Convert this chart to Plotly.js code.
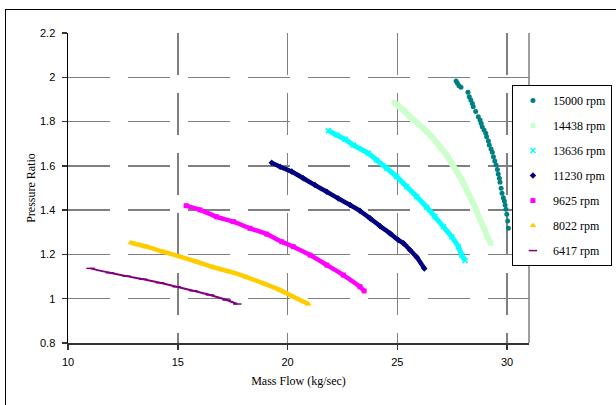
<!DOCTYPE html>
<html>
<head>
<meta charset="utf-8">
<script src="https://cdn.plot.ly/plotly-3.0.1.min.js"></script>
<style>
  html, body { margin: 0; padding: 0; background: #fff; }
  #wrap { position: relative; width: 616px; height: 405px; overflow: hidden; }
  #chart { position: absolute; left: 0; top: 0; width: 616px; height: 405px; }
  #frame { position: absolute; left: 5px; top: 9px; width: 640px; height: 420px;
           border: 1px solid #000; pointer-events: none; box-sizing: border-box; }
</style>
</head>
<body>
<div id="wrap">
  <div id="chart"></div>
  <div id="frame"></div>
</div>
<script>
// Series names (legend labels)
const seriesNames = ["15000 rpm", "14438 rpm", "13636 rpm", "11230 rpm", "9625 rpm", "8022 rpm", "6417 rpm"];

// Mass flow (kg/sec) and pressure ratio values
const flow15000 = [27.68, 27.74, 27.81, 27.90, 28.22, 28.28, 28.35, 28.42, 28.46, 28.57, 28.69, 28.77, 28.82, 28.87, 28.95, 29.03, 29.07, 29.15, 29.19, 29.27, 29.33, 29.38, 29.44, 29.50, 29.56, 29.60, 29.65, 29.68, 29.73, 29.77, 29.83, 29.88, 29.91, 29.95, 29.99, 30.03, 30.06];
const pr15000   = [1.983, 1.973, 1.962, 1.955, 1.932, 1.912, 1.897, 1.882, 1.867, 1.845, 1.822, 1.807, 1.792, 1.777, 1.762, 1.747, 1.732, 1.712, 1.694, 1.676, 1.661, 1.641, 1.622, 1.604, 1.584, 1.563, 1.544, 1.526, 1.499, 1.476, 1.456, 1.441, 1.423, 1.404, 1.381, 1.351, 1.318];

const flow14438 = [24.85, 25.28, 25.58, 25.96, 26.36, 26.64, 26.95, 27.25, 27.48, 27.71, 27.94, 28.16, 28.39, 28.59, 28.77, 28.95, 29.10, 29.27];
const pr14438   = [1.887, 1.852, 1.822, 1.789, 1.753, 1.724, 1.686, 1.649, 1.611, 1.574, 1.536, 1.491, 1.446, 1.401, 1.356, 1.318, 1.280, 1.250];

const flow13636 = [21.86, 22.24, 22.62, 23.00, 23.68, 24.06, 24.52, 24.97, 25.43, 25.89, 26.34, 26.72, 27.10, 27.48, 27.78, 27.94, 28.09];
const pr13636   = [1.759, 1.739, 1.720, 1.694, 1.657, 1.626, 1.589, 1.551, 1.506, 1.461, 1.413, 1.370, 1.325, 1.280, 1.235, 1.197, 1.172];

const flow11230 = [19.28, 19.66, 20.19, 20.72, 21.25, 21.79, 22.31, 22.85, 23.30, 23.76, 24.21, 24.67, 25.05, 25.28, 25.58, 25.89, 26.23];
const pr11230   = [1.614, 1.596, 1.574, 1.544, 1.513, 1.483, 1.453, 1.423, 1.397, 1.363, 1.328, 1.295, 1.265, 1.250, 1.220, 1.187, 1.137];

const flow9625 = [15.38, 16.01, 16.77, 17.53, 18.29, 19.05, 19.74, 20.26, 21.03, 21.79, 22.54, 23.30, 23.49];
const pr9625   = [1.420, 1.401, 1.370, 1.348, 1.318, 1.292, 1.257, 1.235, 1.197, 1.152, 1.107, 1.054, 1.035];

const flow8022 = [12.86, 13.59, 14.34, 15.10, 15.86, 16.62, 17.38, 18.14, 18.90, 19.66, 20.26, 20.95];
const pr8022   = [1.253, 1.235, 1.212, 1.190, 1.167, 1.142, 1.122, 1.097, 1.069, 1.039, 1.009, 0.976];

const flow6417 = [11.03, 11.91, 12.67, 13.43, 14.19, 14.95, 15.71, 16.47, 17.23, 17.71];
const pr6417   = [1.137, 1.117, 1.102, 1.088, 1.072, 1.054, 1.036, 1.017, 0.994, 0.976];

const xTicks = [10, 15, 20, 25, 30];
const yTicks = [0.8, 1, 1.2, 1.4, 1.6, 1.8, 2, 2.2];

const xs = [flow15000, flow14438, flow13636, flow11230, flow9625, flow8022, flow6417];
const ys = [pr15000, pr14438, pr13636, pr11230, pr9625, pr8022, pr6417];

// styles
const colors  = ["#008080", "#CCFFCC", "#00FFFF", "#000080", "#FF00FF", "#FFCC00", "#800080"];
const symbols = ["circle", "square", "x-thin-open", "diamond", "square", "triangle-up", "line-ew-open"];
const msizes  = [5, 5, 5, 5, 5, 6, 6];
const lineW   = [0, 6, 5, 4.5, 4.5, 4.5, 2];

const traces = [];
// continuous bands (no legend)
for (let i = 0; i < xs.length; i++) {
  if (lineW[i] > 0) {
    traces.push({
      x: xs[i], y: ys[i], type: "scatter", mode: "lines",
      line: {color: colors[i], width: lineW[i], shape: "spline", smoothing: 0.6},
      showlegend: false, hoverinfo: "skip"
    });
  }
}
// markers with legend
for (let i = 0; i < xs.length; i++) {
  const open = symbols[i].indexOf("open") >= 0;
  traces.push({
    x: xs[i], y: ys[i], type: "scatter", mode: "markers",
    name: seriesNames[i], legendgroup: "g" + i,
    marker: {color: colors[i], symbol: symbols[i], size: msizes[i],
             line: {color: colors[i], width: open ? 1.5 : 0}}
  });
}

const gridStyle = {gridcolor: "#7f7f7f", gridwidth: 1.5, griddash: "42px,18px"};

const layout = {
  width: 616, height: 405,
  margin: {l: 68, r: 87, t: 33, b: 62, autoexpand: false},
  paper_bgcolor: "#fff", plot_bgcolor: "#fff",
  showlegend: true,
  legend: {
    x: 0.963, y: 0.832, xanchor: "left", yanchor: "top",
    bgcolor: "#fff", bordercolor: "#000", borderwidth: 1,
    font: {family: "Liberation Serif, Times New Roman, serif", size: 12, color: "#000"},
    traceorder: "grouped", tracegroupgap: 6, itemwidth: 30
  },
  xaxis: Object.assign({
    range: [10, 31], tickvals: xTicks, ticktext: xTicks.map(String),
    showline: true, linecolor: "#333", linewidth: 1.5,
    ticks: "outside", ticklen: 5, tickcolor: "#333", tickwidth: 1.5,
    zeroline: false, ticklabelstandoff: 3,
    tickfont: {family: "Liberation Sans, Arial, sans-serif", size: 11, color: "#000"},
    title: {text: "Mass Flow (kg/sec)", standoff: 10,
            font: {family: "Liberation Serif, Times New Roman, serif", size: 12, color: "#000"}}
  }, gridStyle),
  yaxis: Object.assign({
    range: [0.8, 2.2], tickvals: yTicks, ticktext: yTicks.map(String),
    showline: true, linecolor: "#000", linewidth: 1.5,
    ticks: "outside", ticklen: 5, tickcolor: "#333", tickwidth: 1.5,
    zeroline: false, ticklabelstandoff: 4,
    tickfont: {family: "Liberation Sans, Arial, sans-serif", size: 11, color: "#000"},
    title: {text: "Pressure Ratio", standoff: 2,
            font: {family: "Liberation Serif, Times New Roman, serif", size: 12, color: "#000"}}
  }, gridStyle),
  shapes: [
    {type: "line", xref: "paper", yref: "paper", x0: 1, x1: 1, y0: 0, y1: 1,
     line: {color: "#7f7f7f", width: 1.5}}
  ]
};

Plotly.newPlot("chart", traces, layout, {displayModeBar: false, staticPlot: true});
</script>
</body>
</html>
